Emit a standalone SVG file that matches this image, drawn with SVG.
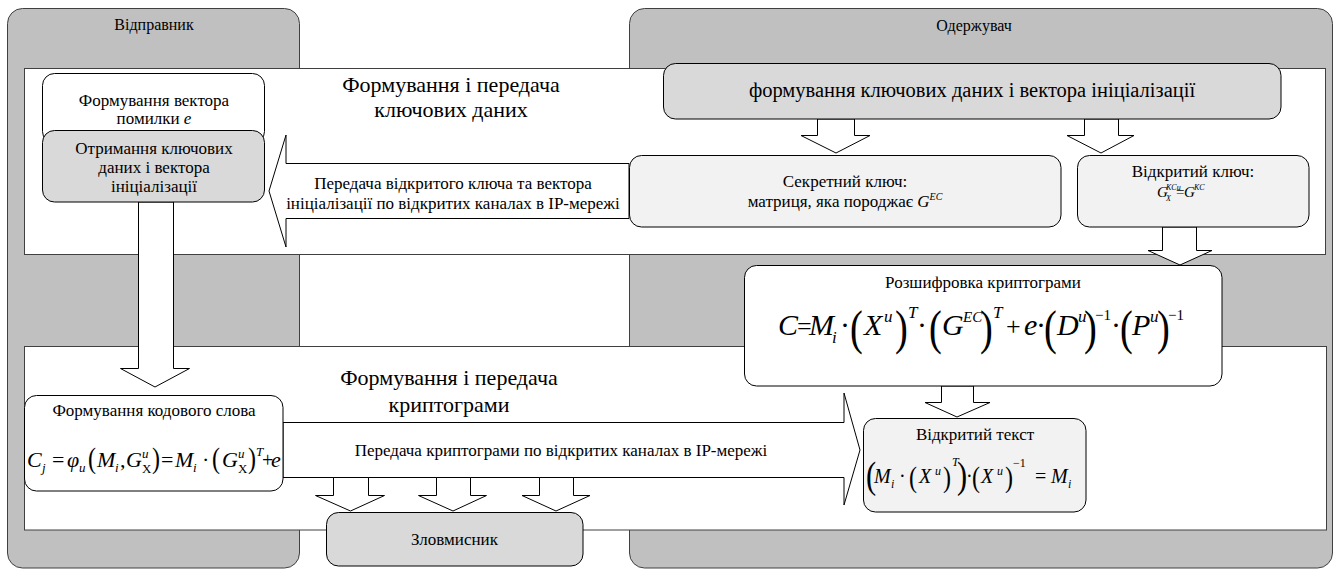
<svg xmlns="http://www.w3.org/2000/svg" width="1340" height="571" viewBox="0 0 1340 571" font-family="'Liberation Serif', 'Times New Roman', serif">
<style>
.panel{fill:#c0c0c0;stroke:#404040;stroke-width:1}
.band{fill:#ffffff;stroke:#404040;stroke-width:1}
.box{stroke:#000;stroke-width:1}
.w{fill:#ffffff}.g1{fill:#d9d9d9}.g2{fill:#f2f2f2}
.arrow{fill:#ffffff;stroke:#000;stroke-width:1}
.lbl{font-size:17px}
.hdr{font-size:16px}
.big{font-size:22px}
.i{font-style:italic}
</style>

<g id="sender">
<rect class="panel" x="7.5" y="8.5" width="292" height="559.5" rx="15"/>
<text class="hdr" x="154" y="30" text-anchor="middle">Відправник</text>
</g>
<g id="receiver">
<rect class="panel" x="629.5" y="8.5" width="703" height="559.5" rx="15"/>
<text class="hdr" x="974" y="31" text-anchor="middle">Одержувач</text>
</g>

<g id="band-keys">
<rect class="band" x="24.5" y="68.5" width="1301" height="186"/>
<text class="big" x="451" y="92" text-anchor="middle">Формування і передача</text>
<text class="big" x="451" y="117" text-anchor="middle">ключових даних</text>
</g>
<g id="band-crypto">
<rect class="band" x="24.5" y="346.5" width="1302" height="183.5"/>
<text class="big" x="449" y="385" text-anchor="middle">Формування і передача</text>
<text class="big" x="449" y="412" text-anchor="middle">криптограми</text>
</g>

<g id="connectors">
<polygon class="arrow" points="629,163.5 286,163.5 286,135 269,191 286,247 286,218.5 629,218.5"/>
<text class="lbl" x="453" y="189" text-anchor="middle">Передача відкритого ключа та вектора</text>
<text class="lbl" x="453" y="209" text-anchor="middle">ініціалізації по відкритих каналах в IP-мережі</text>
<polygon class="arrow" points="817.5,119 854.5,119 854.5,135.5 870,135.5 836,153 801,135.5 817.5,135.5"/>
<polygon class="arrow" points="1084.5,119 1118.5,119 1118.5,135.5 1134,135.5 1101,153 1067,135.5 1084.5,135.5"/>
<polygon class="arrow" points="1162.5,227 1196.5,227 1196.5,250.5 1212,250.5 1180,265 1148,250.5 1162.5,250.5"/>
<polygon class="arrow" points="941.5,386 973.5,386 973.5,402.5 990,402.5 957,417 925,402.5 941.5,402.5"/>
<polygon class="arrow" points="138.5,202 173.5,202 173.5,368.5 189.5,368.5 155,387 120.5,368.5 138.5,368.5"/>
<polygon class="arrow" points="283,422.5 844,422.5 844,393 860,450 844,505 844,477.5 283,477.5"/>
<text class="lbl" x="561" y="456" text-anchor="middle">Передача криптограми по відкритих каналах в IP-мережі</text>
<polygon class="arrow" points="333.5,477.5 368.5,477.5 368.5,495.5 384.5,495.5 350.5,511 315.5,495.5 333.5,495.5"/>
<polygon class="arrow" points="436.5,477.5 470.5,477.5 470.5,495.5 486.5,495.5 453,511 418.5,495.5 436.5,495.5"/>
<polygon class="arrow" points="539.5,477.5 573.5,477.5 573.5,495.5 590,495.5 556,511 522,495.5 539.5,495.5"/>
</g>

<g id="error-vector">
<rect class="box w" x="42.5" y="73.5" width="222" height="70" rx="12"/>
<text class="lbl" x="154" y="106" text-anchor="middle">Формування вектора</text>
<text class="lbl" x="154" y="124" text-anchor="middle">помилки <tspan class="i">e</tspan></text>
</g>
<g id="receive-keys">
<rect class="box g1" x="42.5" y="130.5" width="222" height="71.5" rx="12"/>
<text class="lbl" x="154" y="154" text-anchor="middle">Отримання ключових</text>
<text class="lbl" x="154" y="173" text-anchor="middle">даних і вектора</text>
<text class="lbl" x="154" y="192" text-anchor="middle">ініціалізації</text>
</g>
<g id="key-gen">
<rect class="box g1" x="663.5" y="63.5" width="617.5" height="55.5" rx="12"/>
<text font-size="20.5" x="972" y="97" text-anchor="middle">формування ключових даних і вектора ініціалізації</text>
</g>
<g id="secret-key">
<rect class="box g2" x="629.5" y="155.5" width="431.5" height="71.5" rx="12"/>
<text class="lbl" x="845" y="187" text-anchor="middle">Секретний ключ:</text>
<text class="lbl" x="845" y="207" text-anchor="middle">матриця, яка породжає <tspan class="i">G</tspan><tspan class="i" font-size="10" dy="-7">EC</tspan></text>
</g>
<g id="public-key">
<rect class="box g2" x="1077.5" y="155.5" width="231.5" height="71.5" rx="12"/>
<text class="lbl" x="1193" y="177" text-anchor="middle">Відкритий ключ:</text>
<text font-size="15"><tspan class="i" x="1157" y="197">G</tspan><tspan class="i" x="1166" y="190" font-size="8">KCu</tspan><tspan x="1166" y="201" font-size="8" class="i">X</tspan><tspan x="1176" y="197">=</tspan><tspan class="i" x="1184" y="197">G</tspan><tspan class="i" x="1194" y="190" font-size="8">KC</tspan></text>
</g>
<g id="decrypt">
<rect class="box w" x="744.5" y="265.5" width="477.5" height="120.5" rx="12"/>
<text class="lbl" x="983" y="288" text-anchor="middle">Розшифровка криптограми</text>
<text font-size="30">
<tspan class="i" x="778" y="335">C</tspan>
<tspan x="797" y="335" font-size="26">=</tspan>
<tspan class="i" x="809" y="335">M</tspan>
<tspan class="i" x="832" y="343" font-size="17">i</tspan>
<tspan x="840" y="335">·</tspan>
<tspan class="i" x="864" y="335">X</tspan>
<tspan class="i" x="884" y="322" font-size="17">u</tspan>
<tspan class="i" x="908" y="318" font-size="17">T</tspan>
<tspan x="917" y="335">·</tspan>
<tspan class="i" x="942" y="335">G</tspan>
<tspan class="i" x="963" y="322" font-size="15">EC</tspan>
<tspan class="i" x="993" y="318" font-size="17">T</tspan>
<tspan x="1006" y="335" font-size="26">+</tspan>
<tspan class="i" x="1024" y="335">e</tspan>
<tspan x="1036" y="335">·</tspan>
<tspan class="i" x="1057" y="335">D</tspan>
<tspan class="i" x="1078" y="322" font-size="17">u</tspan>
<tspan x="1095" y="320" font-size="15">−1</tspan>
<tspan x="1111" y="335">·</tspan>
<tspan class="i" x="1132" y="335">P</tspan>
<tspan class="i" x="1150" y="322" font-size="17">u</tspan>
<tspan x="1168" y="320" font-size="15">−1</tspan>
</text>
<g font-size="48">
<text transform="translate(850,344) scale(0.8,1)">(</text>
<text transform="translate(895,344) scale(0.8,1)">)</text>
<text transform="translate(929,344) scale(0.8,1)">(</text>
<text transform="translate(980,344) scale(0.8,1)">)</text>
<text transform="translate(1044,344) scale(0.8,1)">(</text>
<text transform="translate(1084,344) scale(0.8,1)">)</text>
<text transform="translate(1120,344) scale(0.8,1)">(</text>
<text transform="translate(1157,344) scale(0.8,1)">)</text>
</g>
</g>
<g id="plaintext">
<rect class="box g2" x="863.5" y="418.5" width="222.5" height="93.5" rx="12"/>
<text class="lbl" x="975" y="440" text-anchor="middle">Відкритий текст</text>
<text font-size="20">
<tspan class="i" x="874" y="483">M</tspan>
<tspan class="i" x="891" y="488" font-size="12">i</tspan>
<tspan x="899" y="483">·</tspan>
<tspan class="i" x="919" y="483">X</tspan>
<tspan class="i" x="935" y="475" font-size="12">u</tspan>
<tspan class="i" x="952" y="466" font-size="12">T</tspan>
<tspan x="966" y="483">·</tspan>
<tspan class="i" x="981" y="483">X</tspan>
<tspan class="i" x="997" y="475" font-size="12">u</tspan>
<tspan x="1013" y="467" font-size="12">−1</tspan>
<tspan x="1035" y="483">=</tspan>
<tspan class="i" x="1051" y="483">M</tspan>
<tspan class="i" x="1068" y="488" font-size="12">i</tspan>
</text>
<g>
<text font-size="38" transform="translate(866,488) scale(0.8,1)">(</text>
<text font-size="30" transform="translate(909,487) scale(0.8,1)">(</text>
<text font-size="30" transform="translate(943,487) scale(0.8,1)">)</text>
<text font-size="38" transform="translate(957,488) scale(0.8,1)">)</text>
<text font-size="30" transform="translate(972,487) scale(0.8,1)">(</text>
<text font-size="30" transform="translate(1005,487) scale(0.8,1)">)</text>
</g>
</g>
<g id="codeword">
<rect class="box w" x="24.5" y="395.5" width="258.5" height="95.5" rx="12"/>
<text class="lbl" x="154" y="416" text-anchor="middle">Формування кодового слова</text>
<text font-size="22">
<tspan class="i" x="27" y="467">C</tspan>
<tspan class="i" x="42" y="472" font-size="13">j</tspan>
<tspan x="52" y="467">=</tspan>
<tspan class="i" x="67" y="467">φ</tspan>
<tspan class="i" x="79" y="472" font-size="13">u</tspan>
<tspan class="i" x="97" y="467">M</tspan>
<tspan class="i" x="115" y="472" font-size="13">i</tspan>
<tspan x="120" y="467">,</tspan>
<tspan class="i" x="126" y="467">G</tspan>
<tspan class="i" x="142" y="458" font-size="13">u</tspan>
<tspan x="142" y="473" font-size="13">X</tspan>
<tspan x="161" y="467">=</tspan>
<tspan class="i" x="175" y="467">M</tspan>
<tspan class="i" x="193" y="472" font-size="13">i</tspan>
<tspan x="202" y="467">·</tspan>
<tspan class="i" x="222" y="467">G</tspan>
<tspan class="i" x="238" y="458" font-size="13">u</tspan>
<tspan x="238" y="473" font-size="13">X</tspan>
<tspan class="i" x="256" y="456" font-size="13">T</tspan>
<tspan x="262" y="467" font-size="20">+</tspan>
<tspan class="i" x="271" y="467">e</tspan>
</text>
<g font-size="30">
<text transform="translate(88,468) scale(0.8,1)">(</text>
<text transform="translate(152,468) scale(0.8,1)">)</text>
<text transform="translate(212,468) scale(0.8,1)">(</text>
<text transform="translate(248,468) scale(0.8,1)">)</text>
</g>
</g>
<g id="attacker">
<rect class="box g1" x="326.5" y="512.5" width="256.5" height="53.5" rx="12"/>
<text class="lbl" x="454.5" y="545" text-anchor="middle">Зловмисник</text>
</g>
</svg>
